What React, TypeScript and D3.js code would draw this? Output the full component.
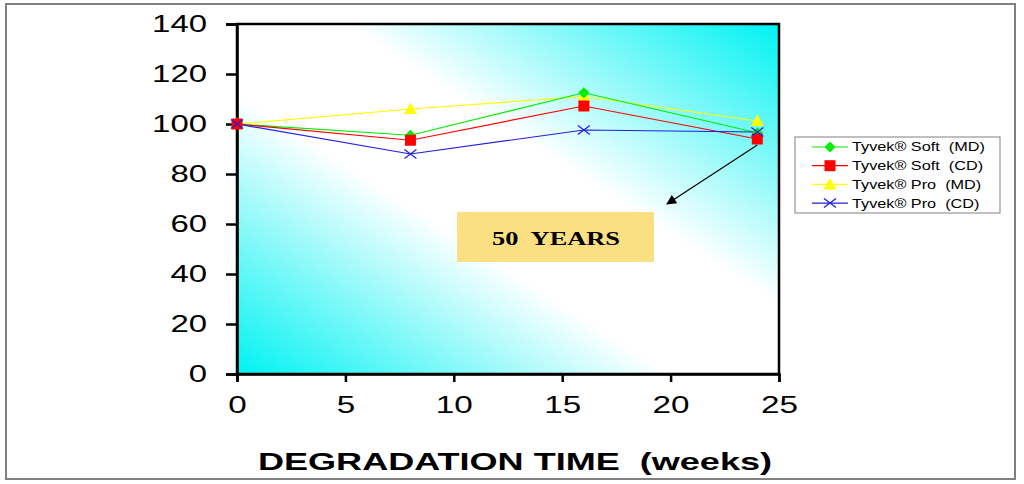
import React, { useEffect, useRef } from 'react';
import * as d3 from 'd3';

const weeks = [0, 8, 16, 24];
const softMD = [100, 95.5, 112.5, 96.5];
const softCD = [100, 93.5, 107.2, 94];
const proMD = [100, 106, 111, 101.2];
const proCD = [100, 88, 97.6, 96.8];

const seriesNames = ['Tyvek® Soft  (MD)', 'Tyvek® Soft  (CD)', 'Tyvek® Pro  (MD)', 'Tyvek® Pro  (CD)'];
const seriesColors = ['#00ee00', '#ff0000', '#ffff00', '#2020dd'];
const seriesMarkers = ['diamond', 'square', 'triangle', 'cross'];

const xTicks = [0, 5, 10, 15, 20, 25];
const yTicks = [0, 20, 40, 60, 80, 100, 120, 140];

const FONT = 'Arial, "Liberation Sans", sans-serif';

const App: React.FC = () => {
    const svgRef = useRef<SVGSVGElement>(null);

    useEffect(() => {
        const W = 1024, H = 484;
        const margin = { top: 24, left: 237, right: 245, bottom: 110 };
        const width = W - margin.left - margin.right;
        const height = H - margin.top - margin.bottom;

        const root = d3.select(svgRef.current);
        root.selectAll('*').remove();
        root.attr('width', W).attr('height', H);

        // gradient: cyan at bottom-left and top-right corners, white along the TL-BR diagonal
        const cx0 = width / 2, cy0 = height / 2;
        const len = Math.hypot(width, height);
        const nx = height / len, ny = -width / len;
        const reach = Math.abs(-cx0 * nx + cy0 * ny);
        const defs = root.append('defs');
        const grad = defs.append('linearGradient')
            .attr('id', 'bg').attr('gradientUnits', 'userSpaceOnUse')
            .attr('x1', cx0 - reach * nx).attr('y1', cy0 - reach * ny)
            .attr('x2', cx0 + reach * nx).attr('y2', cy0 + reach * ny);
        grad.append('stop').attr('offset', 0).attr('stop-color', '#00f2f2');
        grad.append('stop').attr('offset', 0.4).attr('stop-color', '#ffffff');
        grad.append('stop').attr('offset', 0.6).attr('stop-color', '#ffffff');
        grad.append('stop').attr('offset', 1).attr('stop-color', '#00f2f2');

        // outer frame
        root.append('rect')
            .attr('x', 6).attr('y', 4).attr('width', 1009).attr('height', 475)
            .attr('fill', 'white').attr('stroke', '#808080').attr('stroke-width', 2);

        const svg = root.append('g').attr('transform', `translate(${margin.left},${margin.top})`);

        const x = d3.scaleLinear().domain([0, 25]).range([0, width]);
        const y = d3.scaleLinear().domain([0, 140]).range([height, 0]);

        svg.append('rect')
            .attr('width', width).attr('height', height)
            .attr('fill', 'url(#bg)').attr('stroke', '#000').attr('stroke-width', 2.5);

        const yAxis = svg.append('g')
            .call(d3.axisLeft(y).tickValues(yTicks).tickSize(11).tickPadding(19).tickFormat(d3.format('d')));
        yAxis.select('.domain').attr('stroke-width', 2.5);
        yAxis.selectAll('.tick line').attr('stroke-width', 2.5);
        yAxis.selectAll<SVGTextElement, number>('text')
            .attr('font-family', FONT).attr('font-size', 24).attr('fill', '#000')
            .attr('textLength', d => String(d).length * 18.3)
            .attr('lengthAdjust', 'spacingAndGlyphs');

        const xAxis = svg.append('g')
            .attr('transform', `translate(0,${height})`)
            .call(d3.axisBottom(x).tickValues(xTicks).tickSize(8).tickPadding(14).tickFormat(d3.format('d')));
        xAxis.select('.domain').attr('stroke-width', 2.5);
        xAxis.selectAll('.tick line').attr('stroke-width', 2.5);
        xAxis.selectAll<SVGTextElement, number>('text')
            .attr('font-family', FONT).attr('font-size', 24).attr('fill', '#000')
            .attr('textLength', d => String(d).length * 18.5)
            .attr('lengthAdjust', 'spacingAndGlyphs');

        svg.append('text')
            .attr('x', 515 - margin.left).attr('y', 470 - margin.top)
            .attr('text-anchor', 'middle')
            .attr('font-family', FONT)
            .attr('font-weight', 'bold').attr('font-size', 24)
            .attr('xml:space', 'preserve')
            .attr('textLength', 514).attr('lengthAdjust', 'spacingAndGlyphs')
            .text('DEGRADATION TIME  (weeks)');

        const drawMarker = (g: d3.Selection<SVGGElement, unknown, null, undefined>, kind: string, cx: number, cy: number, color: string) => {
            if (kind === 'diamond') {
                g.append('path').attr('d', `M${cx},${cy - 5.5}L${cx + 5.5},${cy}L${cx},${cy + 5.5}L${cx - 5.5},${cy}Z`).attr('fill', color);
            } else if (kind === 'square') {
                g.append('rect').attr('x', cx - 5.5).attr('y', cy - 5.5).attr('width', 11).attr('height', 11).attr('fill', color);
            } else if (kind === 'triangle') {
                g.append('path').attr('d', `M${cx},${cy - 6.5}L${cx + 6.5},${cy + 5}L${cx - 6.5},${cy + 5}Z`).attr('fill', color);
            } else {
                g.append('path').attr('d', `M${cx - 6},${cy - 4.5}L${cx + 6},${cy + 4.5}M${cx - 6},${cy + 4.5}L${cx + 6},${cy - 4.5}`)
                    .attr('stroke', color).attr('stroke-width', 1.3).attr('fill', 'none');
            }
        };

        const allSeries = [softMD, softCD, proMD, proCD];
        const line = d3.line<number>().x((d, i) => x(weeks[i])).y(d => y(d));
        const drawOrder = [2, 0, 1, 3];
        drawOrder.forEach(si => {
            svg.append('path').datum(allSeries[si]).attr('d', line)
                .attr('fill', 'none').attr('stroke', seriesColors[si]).attr('stroke-width', 1.2);
        });
        drawOrder.forEach(si => {
            const g = svg.append('g');
            allSeries[si].forEach((v, i) => drawMarker(g, seriesMarkers[si], x(weeks[i]), y(v), seriesColors[si]));
        });

        // 50 YEARS box
        svg.append('rect')
            .attr('x', 457 - margin.left).attr('y', 212 - margin.top).attr('width', 197).attr('height', 50)
            .attr('fill', '#fae083');
        svg.append('text')
            .attr('x', 556 - margin.left).attr('y', 245 - margin.top)
            .attr('text-anchor', 'middle')
            .attr('font-family', '"Liberation Serif", "Times New Roman", serif')
            .attr('font-weight', 'bold').attr('font-size', 19)
            .attr('xml:space', 'preserve')
            .attr('textLength', 128).attr('lengthAdjust', 'spacingAndGlyphs')
            .text('50  YEARS');

        // arrow
        defs.append('marker')
            .attr('id', 'arrow').attr('viewBox', '0 0 10 10').attr('refX', 9).attr('refY', 5)
            .attr('markerWidth', 12).attr('markerHeight', 10).attr('orient', 'auto').attr('markerUnits', 'userSpaceOnUse')
            .append('path').attr('d', 'M0,0L10,5L0,10Z').attr('fill', '#000');
        svg.append('line')
            .attr('x1', x(24)).attr('y1', y(94) + 6)
            .attr('x2', 667 - margin.left).attr('y2', 204 - margin.top)
            .attr('stroke', '#000').attr('stroke-width', 1.2).attr('marker-end', 'url(#arrow)');

        // legend
        const lg = root.append('g').attr('transform', 'translate(795,137)');
        lg.append('rect').attr('width', 205).attr('height', 76)
            .attr('fill', 'white').attr('stroke', '#808080').attr('stroke-width', 1);
        seriesNames.forEach((name, i) => {
            const ly = 10 + i * 18.7;
            const row = lg.append('g');
            row.append('line').attr('x1', 17).attr('x2', 53).attr('y1', ly).attr('y2', ly)
                .attr('stroke', seriesColors[i]).attr('stroke-width', 1.2);
            drawMarker(row, seriesMarkers[i], 35, ly, seriesColors[i]);
            row.append('text').attr('x', 57).attr('y', ly + 4.5)
                .attr('font-family', FONT).attr('font-size', 12.5)
                .attr('xml:space', 'preserve')
                .attr('transform', `translate(57,0) scale(1.3,1) translate(-57,0)`)
                .text(name);
        });
    }, []);

    return <svg ref={svgRef} style={{ position: 'absolute', left: 0, top: 0 }}></svg>;
};

export default App;
